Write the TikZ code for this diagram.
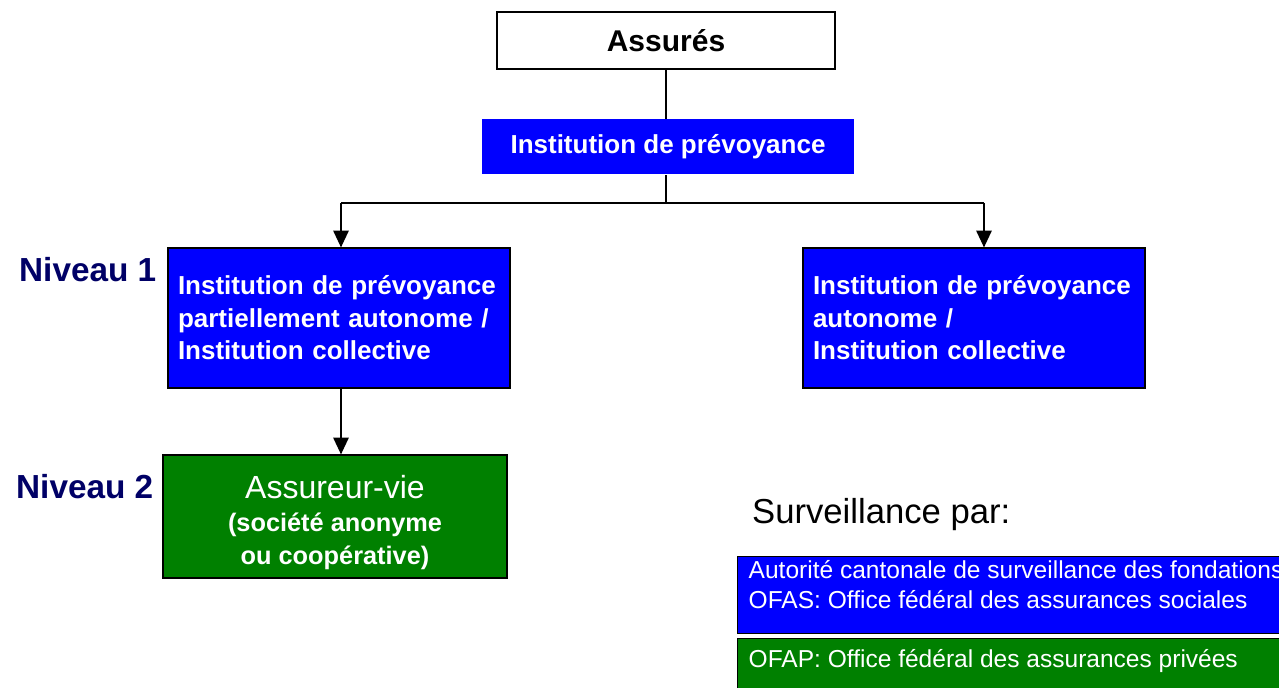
\documentclass[tikz,border=0pt]{standalone}
\usepackage{fontspec}
\setmainfont{Liberation Sans}
\usetikzlibrary{arrows.meta}

\definecolor{boxblue}{RGB}{0,0,255}
\definecolor{boxgreen}{RGB}{0,128,0}
\definecolor{levelnavy}{RGB}{0,0,102}

\tikzset{
  bluebox/.style={draw=black, line width=0.9pt, fill=boxblue, text=white, inner sep=0pt},
  greenbox/.style={draw=black, line width=0.9pt, fill=boxgreen, text=white, inner sep=0pt},
  leveltext/.style={anchor=west, text=levelnavy, font=\fontsize{25}{30}\selectfont\bfseries},
  boxtext/.style={font=\fontsize{19.5}{24.4}\selectfont\bfseries},
  infotext/.style={font=\fontsize{18.4}{22.5}\selectfont},
}

\begin{document}
\begin{tikzpicture}[x=0.75pt,y=-0.75pt,>={Triangle[width=11.5pt,length=12.5pt]},line width=1.1pt]
\useasboundingbox (0,0) rectangle (1279,688);
\clip (0,0) rectangle (1279,688);

% top of the tree
\node[draw=black, line width=0.9pt, fill=white, minimum width=253.5pt, minimum height=42.75pt,
  font=\fontsize{22.5}{26}\selectfont\bfseries] (assures) at (666,40.5) {Assurés};
\node[fill=boxblue, text=white, minimum width=279pt, minimum height=41.25pt, boxtext] (inst) at (668,147) {Institution de prévoyance};

% niveau 1
\node[bluebox, minimum width=256.5pt, minimum height=105pt, text width=241.5pt, align=left, boxtext] (partauto) at (339,318)
  {Institution de prévoyance\\partiellement autonome /\\Institution collective};
\node[bluebox, minimum width=256.5pt, minimum height=105pt, text width=241.5pt, align=left, boxtext] (auto) at (974,318)
  {Institution de prévoyance\\autonome /\\Institution collective};

% niveau 2
\node[greenbox, minimum width=258pt, minimum height=92.25pt] (assvie) at (335,516.5) {};
\node[text=white, align=center, inner sep=0pt, font=\fontsize{19}{24.75}\selectfont\bfseries] (assvietxt) at (335,523)
  {{\fontsize{24}{24.75}\selectfont\mdseries Assureur-vie}\\(société anonyme\\ou coopérative)};

\node[leveltext] (niv1) at (14,270) {Niveau 1};
\node[leveltext] (niv2) at (11,487) {Niveau 2};

% surveillance
\node[anchor=west, font=\fontsize{26}{30}\selectfont] (surv) at (747,515) {Surveillance par:};
\node[bluebox, anchor=north west, minimum width=420pt, minimum height=57.75pt] (survbleu) at (737,556) {};
\node[anchor=west, text=white, infotext, align=left, inner sep=0pt] (survbleutxt) at (748,585)
  {Autorité cantonale de surveillance des fondations\\OFAS: Office fédéral des assurances sociales};
\node[greenbox, anchor=north west, minimum width=420pt, minimum height=50pt] (survvert) at (737,638) {};
\node[anchor=west, text=white, infotext, inner sep=0pt] (survverttxt) at (748,661)
  {OFAP: Office fédéral des assurances privées};

% connectors
\coordinate (jl) at (341,203);
\coordinate (jr) at (984,203);
\draw (assures.south) -- (assures.south |- inst.north);
\draw (inst.south -| assures.south) -- (assures.south |- jl);
\draw (jl) -- (jr);
\draw[->] (jl) -- (jl |- partauto.north);
\draw[->] (jr) -- (jr |- auto.north);
\draw[->] (jl |- partauto.south) -- (jl |- assvie.north);

\end{tikzpicture}
\end{document}
